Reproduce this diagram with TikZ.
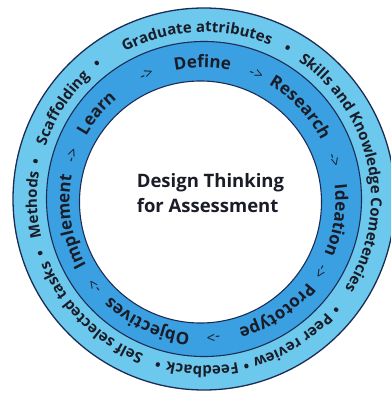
\documentclass[tikz,border=0pt]{standalone}
\usepackage{fontspec}
\setmainfont{Open Sans}
\usetikzlibrary{decorations.text}

\definecolor{ringouter}{RGB}{108,200,236}
\definecolor{ringinner}{RGB}{58,160,226}
\definecolor{ringline}{RGB}{28,45,85}
\definecolor{inkdark}{RGB}{26,28,40}

\newcommand\outerfont{\fontsize{15}{15}\selectfont\bfseries\color{inkdark}}
\newcommand\innerfont{\fontsize{17}{17}\selectfont\bfseries\color{inkdark}}
\newcommand\arrowfont{\fontsize{15}{15}\selectfont\color{inkdark}}

\begin{document}
\begin{tikzpicture}[x=1pt,y=1pt]
\useasboundingbox (-204,-195) rectangle (187,199);
\clip (-204,-195) rectangle (187,199);

% ring radii
\def\rOuter{191pt}
\def\rMid{157.5pt}
\def\rInner{121pt}
\def\rOutText{167pt}
\def\rInText{133pt}

% --- rings ---
\filldraw[ringouter, draw=ringline, line width=1.3pt] (0,0) circle (\rOuter);
\filldraw[ringinner, draw=ringline, line width=1.1pt] (0,0) circle (\rMid);
\filldraw[white, draw=ringline, line width=1.1pt] (-3.5,-3) circle (\rInner);

% --- outer ring: words and bullets, clockwise ---
\foreach \ang/\word in {92.5/Graduate attributes, 11.5/Skills and Knowledge Cometencies,
    -58/Peer review, -90.6/Feedback, -134.7/Self selected tasks,
    -178/Methods, 147.3/Scaffolding,
    61/•, -40/•, -75.7/•, -105.5/•, -161.7/•, 167.6/•, 128.4/•}
  \path[decorate, decoration={text along path, text align=center,
      text/.expanded={|\noexpand\outerfont|\word}}]
    (\ang+60:\rOutText) arc[start angle=\ang+60, end angle=\ang-60, radius=\rOutText];

% --- inner ring: design steps ---
\begin{scope}[shift={(-1.5,-1.5)}]
  \foreach \ang/\word in {140.5/Learn, 90/Define, 43.5/Research, -8.5/Ideation,
      -56/Prototype, -114.5/Objectives, -171/Implement}
    \path[decorate, decoration={text along path, text align=center,
        text/.expanded={|\noexpand\innerfont|\word}}]
      (\ang+50:\rInText) arc[start angle=\ang+50, end angle=\ang-50, radius=\rInText];
  \foreach \ang in {161, 114, 67, 17, -31, -85.5, -141.5}
    \path[decorate, decoration={text along path, text align=center,
        text={|\arrowfont|->}}]
      (\ang+30:\rInText) arc[start angle=\ang+30, end angle=\ang-30, radius=\rInText];
\end{scope}

% --- centre title ---
\node[font=\fontsize{18.5}{25}\selectfont\bfseries, text=inkdark, align=left]
  (title) at (6.5,5.5) {Design Thinking\\for Assessment};
\end{tikzpicture}
\end{document}
